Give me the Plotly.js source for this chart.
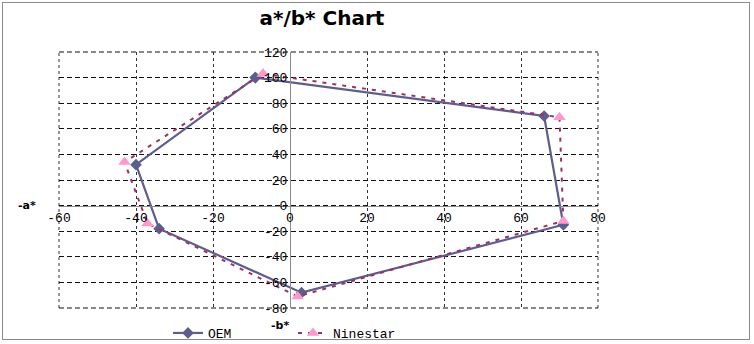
<!DOCTYPE html>
<html>
<head>
<meta charset="utf-8">
<script src="https://cdn.plot.ly/plotly-3.0.1.min.js"></script>
<style>
  html, body { margin: 0; padding: 0; background: #ffffff; }
  #wrap { position: relative; width: 754px; height: 344px; }
  #chart { width: 754px; height: 344px; }
  #frame { position: absolute; left: 2px; top: 2px; width: 746px; height: 336px;
           border: 1px solid #8a8a8a; pointer-events: none; }
</style>
</head>
<body>
<div id="wrap">
  <div id="chart"></div>
  <div id="frame"></div>
</div>
<script>
// -b* (x) and -a* (y) values
const oemB      = [-9, 66, 71, 3, -34, -40, -9];
const oemA      = [100, 70, -15, -68, -18, 32, 100];
const ninestarB = [-7, 70, 71, 2, -37, -43, -7];
const ninestarA = [103, 69, -12, -71, -14, 34, 103];

const xTickVals  = [-60, -40, -20, 0, 20, 40, 60, 80];
const xTickText  = ['-60', '-40', '-20', '0', '20', '40', '60', '80'];
const yTickVals  = [-80, -60, -40, -20, 0, 20, 40, 60, 80, 100, 120];
const yTickText  = ['-80', '-60', '-40', '-20', '0', '20', '40', '60', '80', '100', '120'];

const monoFont = { family: 'Liberation Mono, Courier New, monospace', size: 13, color: '#000000' };

const traces = [
  {
    name: 'OEM', x: oemB, y: oemA, type: 'scatter', mode: 'lines+markers',
    line: { color: '#5e5e8e', width: 2.2 },
    marker: { symbol: 'diamond', size: 9, color: '#5e5e8e' }
  },
  {
    name: 'Ninestar', x: ninestarB, y: ninestarA, type: 'scatter', mode: 'lines+markers',
    line: { color: '#993366', width: 2, dash: '4px,6px' },
    marker: { symbol: 'triangle-up', size: 11, color: '#ff99cc' }
  }
];

const layout = {
  width: 754, height: 344,
  margin: { l: 59, r: 156, t: 52, b: 36, autoexpand: false },
  paper_bgcolor: '#ffffff', plot_bgcolor: '#ffffff',
  showlegend: true,
  title: {
    text: '<b>a*/b* Chart</b>',
    font: { family: 'DejaVu Sans, Verdana, sans-serif', size: 20, color: '#000000' },
    xref: 'container', x: 0.427, xanchor: 'center',
    yref: 'container', y: 0.948, yanchor: 'middle'
  },
  xaxis: {
    range: [-60, 80], anchor: 'free', position: 0.4,
    tickvals: xTickVals, ticktext: xTickText, tickfont: monoFont,
    showline: true, linecolor: '#8c8c8c', linewidth: 1,
    zeroline: false, ticks: '',
    showgrid: true, gridcolor: '#333333', gridwidth: 1, griddash: '3px,3px'
  },
  yaxis: {
    range: [-80, 120], anchor: 'free', position: 60 / 140,
    tickvals: yTickVals, ticktext: yTickText, tickfont: monoFont,
    showline: true, linecolor: '#8c8c8c', linewidth: 1,
    zeroline: false, ticks: '',
    showgrid: true, gridcolor: '#111111', gridwidth: 1, griddash: '5px,3px'
  },
  shapes: [
    // edge gridlines of the plot area (left/right dotted, top/bottom dashed)
    { type: 'line', xref: 'paper', yref: 'paper', x0: 0, x1: 0, y0: 0, y1: 1,
      line: { color: '#333333', width: 1, dash: '3px,3px' }, layer: 'below' },
    { type: 'line', xref: 'paper', yref: 'paper', x0: 1, x1: 1, y0: 0, y1: 1,
      line: { color: '#333333', width: 1, dash: '3px,3px' }, layer: 'below' },
    { type: 'line', xref: 'paper', yref: 'paper', x0: 0, x1: 1, y0: 0, y1: 0,
      line: { color: '#111111', width: 1, dash: '5px,3px' }, layer: 'below' },
    { type: 'line', xref: 'paper', yref: 'paper', x0: 0, x1: 1, y0: 1, y1: 1,
      line: { color: '#111111', width: 1, dash: '5px,3px' }, layer: 'below' }
  ],
  legend: {
    orientation: 'h', xref: 'container', yref: 'container',
    x: 168 / 754, xanchor: 'left', y: 1 - 333 / 344, yanchor: 'middle',
    font: monoFont, bgcolor: 'rgba(0,0,0,0)', tracegroupgap: 0,
    entrywidth: 80, entrywidthmode: 'pixels'
  },
  annotations: [
    { text: '<b>-a*</b>', xref: 'paper', yref: 'paper', x: (27 - 59) / 539, y: 0.4,
      showarrow: false, xanchor: 'center', yanchor: 'middle',
      font: { family: 'DejaVu Sans, Verdana, sans-serif', size: 11, color: '#000000' } },
    { text: '<b>-b*</b>', xref: 'paper', yref: 'paper', x: (280 - 59) / 539, y: (308 - 325) / 256,
      showarrow: false, xanchor: 'center', yanchor: 'middle',
      font: { family: 'DejaVu Sans, Verdana, sans-serif', size: 11, color: '#000000' } }
  ]
};

Plotly.newPlot('chart', traces, layout, { displayModeBar: false, staticPlot: true });
</script>
</body>
</html>
